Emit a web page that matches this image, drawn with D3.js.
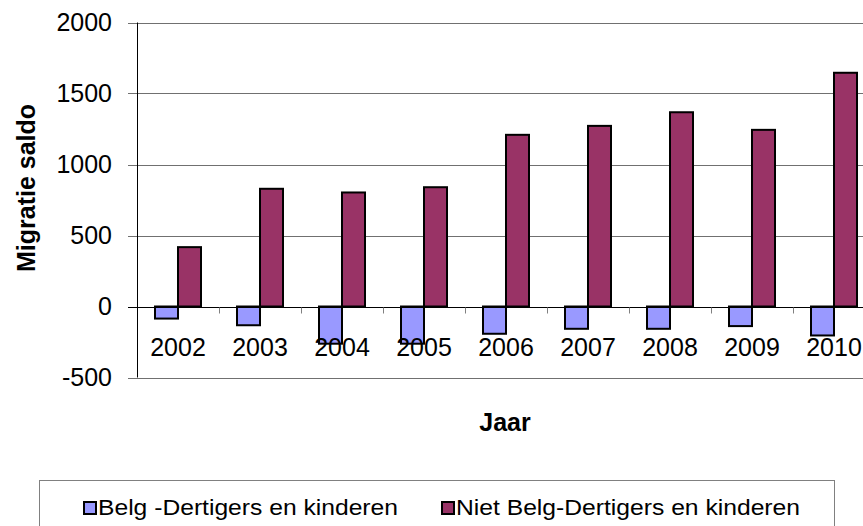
<!DOCTYPE html>
<html>
<head>
<meta charset="utf-8">
<script src="https://cdn.jsdelivr.net/npm/d3@7"></script>
<style>
  body { margin: 0; background: #fff; }
  text { font-family: "Liberation Sans", Arial, sans-serif; }
</style>
</head>
<body>
<div id="chart"></div>
<script>
// data
const years = [ "2002", "2003", "2004", "2005", "2006", "2007", "2008", "2009", "2010" ];
const belg = [ -85, -132, -262, -262, -192, -157, -157, -138, -204 ];
const nietBelg = [ 418, 829, 803, 840, 1209, 1272, 1368, 1244, 1646 ];
const seriesNames = [ "Belg -Dertigers en kinderen", "Niet Belg-Dertigers en kinderen" ];
const seriesColors = [ "#9999FF", "#993366" ];
const yTicks = [ -500, 0, 500, 1000, 1500, 2000 ];

const width = 863, height = 526;
const plot = { left: 137, right: 875, top: 22.5, bottom: 377.5 };

const svg = d3.select( "#chart" )
  .append( "svg" )
  .attr( "width", width )
  .attr( "height", height );

const x = d3.scaleBand()
  .domain( years )
  .range( [ plot.left, plot.right ] );

const y = d3.scaleLinear()
  .domain( [ -500, 2000 ] )
  .range( [ plot.bottom, plot.top ] );

// gridlines + left ticks
svg.append( "g" )
  .selectAll( "line" )
  .data( yTicks.filter( d => d !== 0 ) )
  .enter()
  .append( "line" )
  .attr( "x1", plot.left - 9 )
  .attr( "x2", width )
  .attr( "y1", d => Math.round( y( d ) ) + 0.5 )
  .attr( "y2", d => Math.round( y( d ) ) + 0.5 )
  .attr( "stroke", "#707070" )
  .attr( "stroke-width", 1 );

// y labels
svg.append( "g" )
  .selectAll( "text" )
  .data( yTicks )
  .enter()
  .append( "text" )
  .attr( "x", 112 )
  .attr( "y", d => y( d ) + 8 )
  .attr( "text-anchor", "end" )
  .attr( "font-size", 25 )
  .text( d => d );

// y axis line
svg.append( "line" )
  .attr( "x1", plot.left + 0.5 )
  .attr( "x2", plot.left + 0.5 )
  .attr( "y1", plot.top )
  .attr( "y2", plot.bottom )
  .attr( "stroke", "#000" );

// bars
const bw = 23;
const groups = svg.append( "g" )
  .selectAll( "g" )
  .data( years )
  .enter()
  .append( "g" );

groups.each( function ( yr, i ) {
  const cx = x( yr ) + x.bandwidth() / 2;
  const vals = [ belg[ i ], nietBelg[ i ] ];
  d3.select( this )
    .selectAll( "rect" )
    .data( vals )
    .enter()
    .append( "rect" )
    .attr( "x", ( d, j ) => cx - bw + j * bw )
    .attr( "width", bw )
    .attr( "y", d => Math.min( y( d ), y( 0 ) ) )
    .attr( "height", d => Math.abs( y( d ) - y( 0 ) ) )
    .attr( "fill", ( d, j ) => seriesColors[ j ] )
    .attr( "stroke", "#000" )
    .attr( "stroke-width", 2 );
} );

// zero line and category ticks
svg.append( "line" )
  .attr( "x1", plot.left - 9 )
  .attr( "x2", width )
  .attr( "y1", Math.round( y( 0 ) ) + 0.5 )
  .attr( "y2", Math.round( y( 0 ) ) + 0.5 )
  .attr( "stroke", "#000" );

svg.append( "g" )
  .selectAll( "line" )
  .data( years.slice( 1 ) )
  .enter()
  .append( "line" )
  .attr( "x1", d => Math.round( x( d ) ) + 0.5 )
  .attr( "x2", d => Math.round( x( d ) ) + 0.5 )
  .attr( "y1", y( 0 ) + 1 )
  .attr( "y2", y( 0 ) + 7 )
  .attr( "stroke", "#808080" );

// category labels
svg.append( "g" )
  .selectAll( "text" )
  .data( years )
  .enter()
  .append( "text" )
  .attr( "x", d => x( d ) + x.bandwidth() / 2 )
  .attr( "y", 356 )
  .attr( "text-anchor", "middle" )
  .attr( "font-size", 25 )
  .text( d => d );

// axis titles
svg.append( "text" )
  .attr( "x", 505 )
  .attr( "y", 431 )
  .attr( "text-anchor", "middle" )
  .attr( "font-size", 25 )
  .attr( "font-weight", "bold" )
  .text( "Jaar" );

svg.append( "text" )
  .attr( "transform", "translate(35,188) rotate(-90)" )
  .attr( "text-anchor", "middle" )
  .attr( "font-size", 25 )
  .attr( "font-weight", "bold" )
  .text( "Migratie saldo" );

// legend
svg.append( "rect" )
  .attr( "x", 39.5 )
  .attr( "y", 480.5 )
  .attr( "width", 795 )
  .attr( "height", 60 )
  .attr( "fill", "none" )
  .attr( "stroke", "#808080" );

const legendX = [ 84, 442 ];
const legendLen = [ 300, 344 ];
const leg = svg.append( "g" )
  .selectAll( "g" )
  .data( seriesNames )
  .enter()
  .append( "g" )
  .attr( "transform", ( d, i ) => `translate(${ legendX[ i ] },0)` );

leg.append( "rect" )
  .attr( "x", 0 )
  .attr( "y", 502 )
  .attr( "width", 12 )
  .attr( "height", 12 )
  .attr( "fill", ( d, i ) => seriesColors[ i ] )
  .attr( "stroke", "#000" )
  .attr( "stroke-width", 2 );

leg.append( "text" )
  .attr( "x", 14 )
  .attr( "y", 515 )
  .attr( "font-size", 22 )
  .attr( "textLength", ( d, i ) => legendLen[ i ] )
  .attr( "lengthAdjust", "spacingAndGlyphs" )
  .text( d => d );
</script>
</body>
</html>
